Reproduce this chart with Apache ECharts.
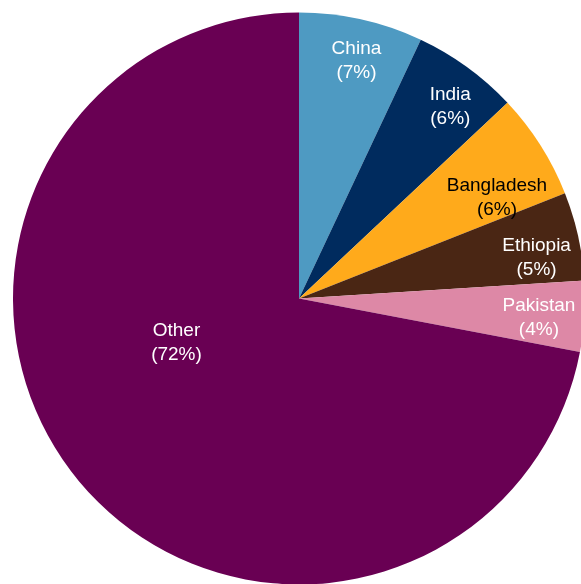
<!DOCTYPE html>
<html>
<head>
<meta charset="utf-8">
<script src="https://cdn.jsdelivr.net/npm/echarts@6/dist/echarts.min.js"></script>
<style>
  html, body { margin: 0; padding: 0; background: #ffffff; }
  #chart { width: 581px; height: 584px; }
</style>
</head>
<body>
<div id="chart"></div>
<script>
// Share of total, by country (percent)
var categories = ['China', 'India', 'Bangladesh', 'Ethiopia', 'Pakistan', 'Other'];
var shares = [7, 6, 6, 5, 4, 72];
var colors = ['#4E9AC2', '#002B5E', '#FFAA1B', '#4A2614', '#DD88A6', '#690053'];
var labelColors = ['#ffffff', '#ffffff', '#000000', '#ffffff', '#ffffff', '#ffffff'];
// Small nudges so each label sits comfortably inside its slice
var labelNudges = [[5, -3], [10, 3], [-5, 28], [3, 12], [0, 4], [-10, -49]];

var CENTER = [299, 298.5];
var RADIUS = 286;
var LABEL_RATIO = 0.83; // small slices: label sits near the rim

var font = { fontFamily: 'Liberation Sans, Arial, sans-serif', fontSize: 19, lineHeight: 24 };

function labelText(p) {
  return p.name + '\n(' + p.value + '%)';
}

// Visible pie; only the large slice carries its own label
var mainData = categories.map(function (name, i) {
  var isOther = name === 'Other';
  return {
    name: name,
    value: shares[i],
    itemStyle: { color: colors[i] },
    label: isOther
      ? { show: true, position: 'inside', color: labelColors[i], offset: labelNudges[i] }
      : { show: false }
  };
});

// Transparent twin pie, twice the label radius, so "inside" labels land near the rim
var labelData = categories.map(function (name, i) {
  return {
    name: name,
    value: shares[i],
    itemStyle: { color: 'rgba(0,0,0,0)' },
    label: { show: name !== 'Other', color: labelColors[i], offset: labelNudges[i] }
  };
});

var chart = echarts.init(document.getElementById('chart'), null, { renderer: 'canvas' });
chart.setOption({
  animation: false,
  backgroundColor: '#ffffff',
  series: [
    {
      type: 'pie',
      center: CENTER,
      radius: RADIUS,
      startAngle: 90,
      clockwise: true,
      avoidLabelOverlap: false,
      emphasis: { disabled: true },
      itemStyle: { borderWidth: 0 },
      label: Object.assign({ formatter: labelText }, font),
      labelLine: { show: false },
      data: mainData
    },
    {
      type: 'pie',
      silent: true,
      center: CENTER,
      radius: RADIUS * LABEL_RATIO * 2,
      startAngle: 90,
      clockwise: true,
      avoidLabelOverlap: false,
      emphasis: { disabled: true },
      itemStyle: { borderWidth: 0 },
      label: Object.assign({ position: 'inside', formatter: labelText }, font),
      labelLine: { show: false },
      data: labelData
    }
  ]
});
</script>
</body>
</html>
